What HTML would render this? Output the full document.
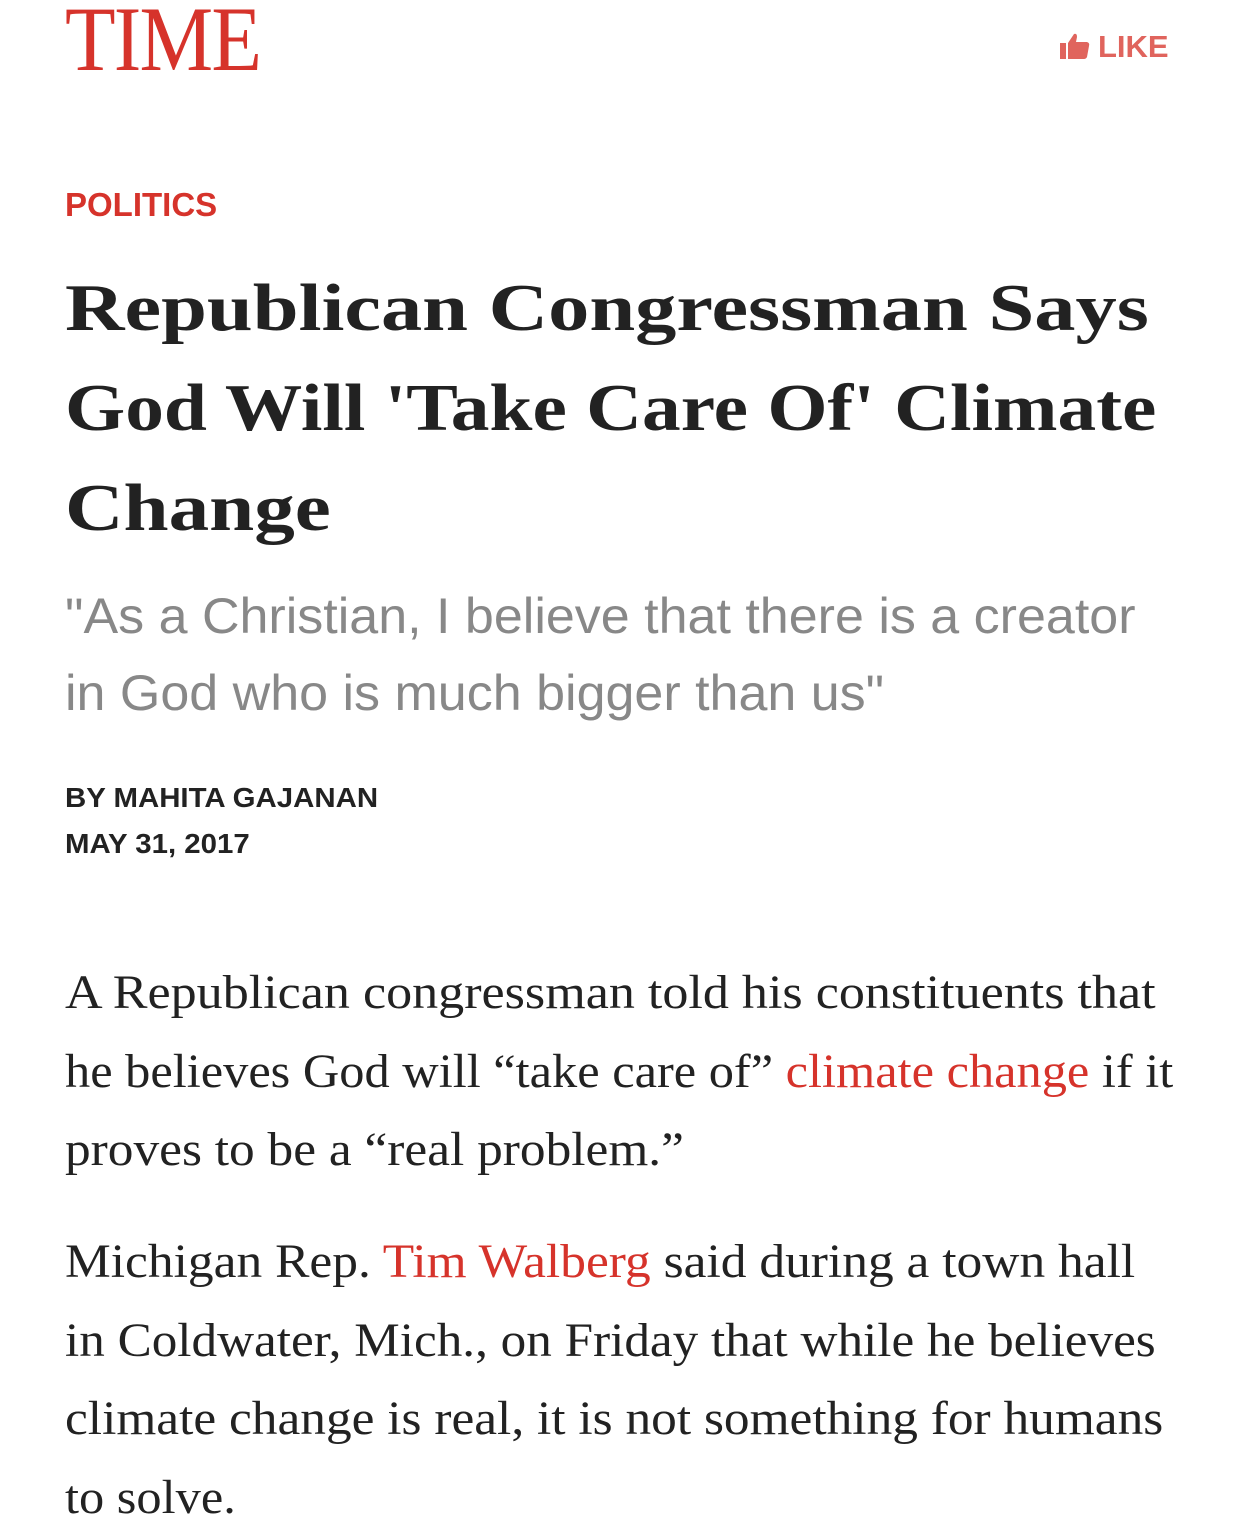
<!DOCTYPE html>
<html><head><meta charset="utf-8"><style>
html,body{margin:0;padding:0;background:#fff;width:1242px;height:1526px;overflow:hidden;position:relative}
.a{position:absolute;white-space:nowrap}
.logo{left:65px;top:-14px;font-family:"Liberation Serif",serif;font-size:92px;color:#d6332b;transform:scaleX(.9);transform-origin:left top;letter-spacing:-2px}
.like{left:1060px;top:29px;font-family:"Liberation Sans",sans-serif;font-weight:bold;font-size:31px;color:#e0645d}
.pol{left:65px;top:186px;font-family:"Liberation Sans",sans-serif;font-weight:bold;font-size:33px;color:#d6332b}
.h{left:65px;font-family:"Liberation Serif",serif;font-weight:bold;font-size:67px;line-height:100px;color:#222;transform-origin:left top}
.sub{left:65px;top:578px;font-family:"Liberation Sans",sans-serif;font-size:50px;line-height:77px;color:#888;transform:scaleX(1.04);transform-origin:left top}
.by{left:65px;top:775px;font-family:"Liberation Sans",sans-serif;font-weight:bold;font-size:28px;line-height:46px;color:#222;transform:scaleX(1.05);transform-origin:left top}
.p{left:65px;font-family:"Liberation Serif",serif;font-size:48px;line-height:78.5px;color:#222;transform-origin:left top}
.r{color:#d6332b}
</style></head><body>
<div class="a logo">TIME</div>
<div class="a like"><svg width="30" height="28" viewBox="0 0 30 28" style="vertical-align:-3px;margin-right:8px"><rect x="0" y="11" width="6" height="16" fill="#e0645d"/><path d="M8 11 L14 2 Q17 1 17 5 L16 10 L27 10 Q30 11 29 14 L27 25 Q26 27 24 27 L8 27Z" fill="#e0645d"/></svg>LIKE</div>
<div class="a pol">POLITICS</div>
<div class="a h" style="top:258px;transform:scaleX(1.23)">Republican Congressman Says</div>
<div class="a h" style="top:358px;transform:scaleX(1.155)">God Will 'Take Care Of' Climate</div>
<div class="a h" style="top:458px;transform:scaleX(1.21)">Change</div>
<div class="a sub">"As a Christian, I believe that there is a creator<br>in God who is much bigger than us"</div>
<div class="a by">BY MAHITA GAJANAN<br>MAY 31, 2017</div>
<div class="a p" style="top:954px;transform:scaleX(1.085)">A Republican congressman told his constituents that</div>
<div class="a p" style="top:1032.5px;transform:scaleX(1.05)">he believes God will “take care of” <span class="r">climate change</span> if it</div>
<div class="a p" style="top:1111px;transform:scaleX(1.07)">proves to be a “real problem.”</div>
<div class="a p" style="top:1223px;transform:scaleX(1.072)">Michigan Rep. <span class="r">Tim Walberg</span> said during a town hall</div>
<div class="a p" style="top:1301.5px;transform:scaleX(1.066)">in Coldwater, Mich., on Friday that while he believes</div>
<div class="a p" style="top:1380px;transform:scaleX(1.07)">climate change is real, it is not something for humans</div>
<div class="a p" style="top:1458.5px;transform:scaleX(1.05)">to solve.</div>
</body></html>
